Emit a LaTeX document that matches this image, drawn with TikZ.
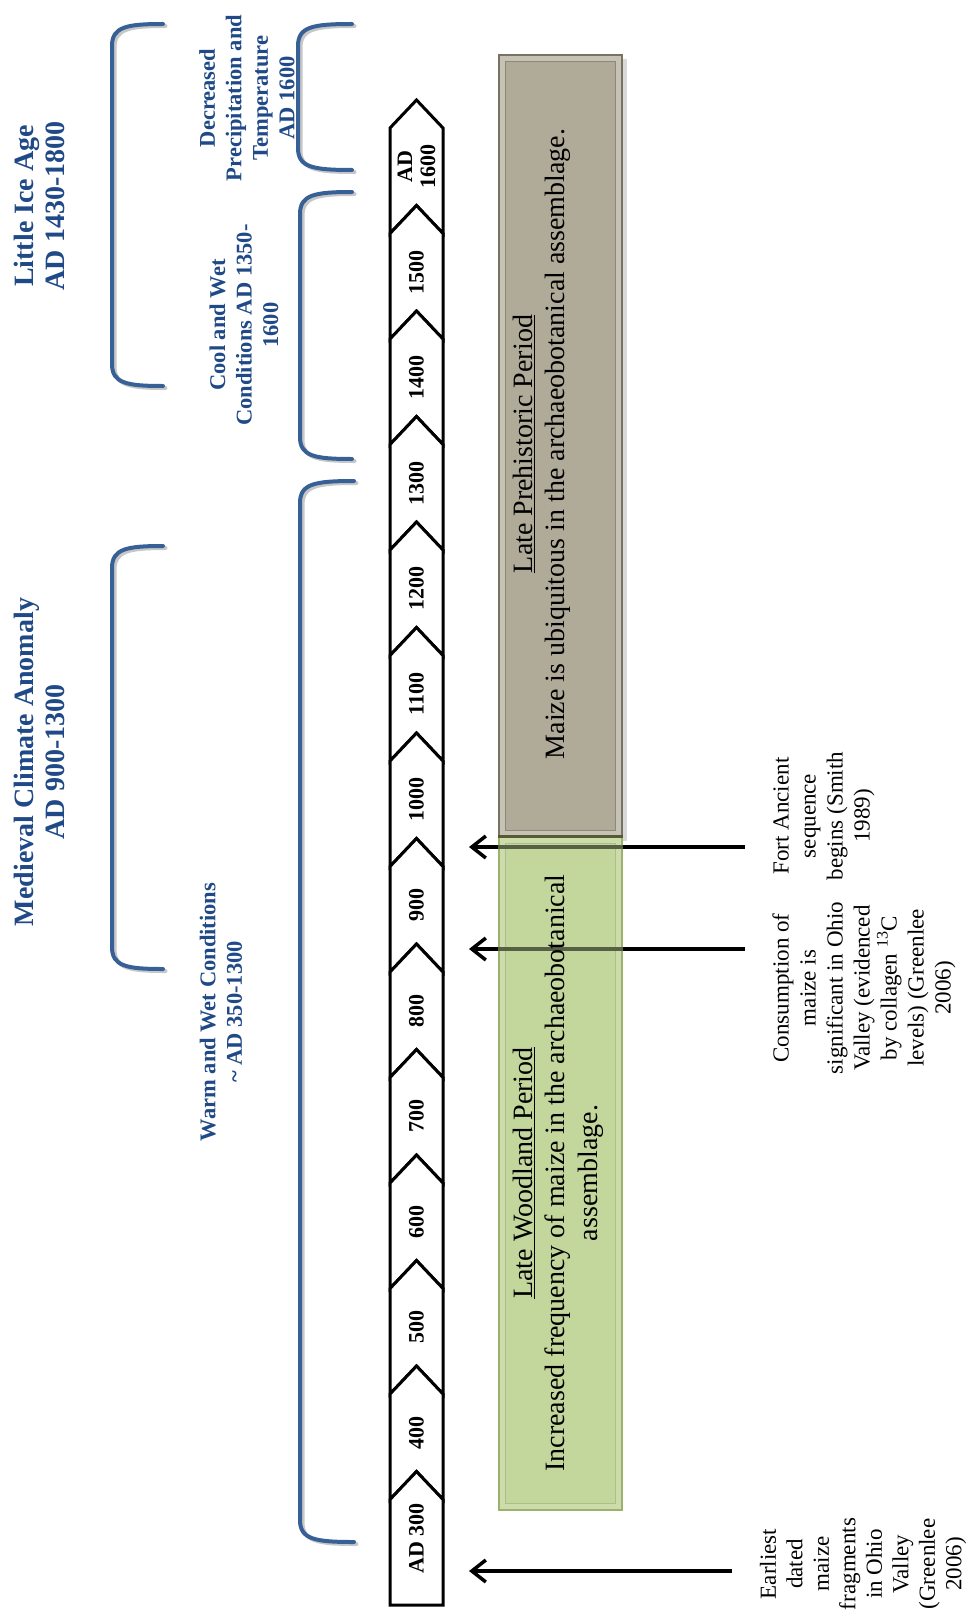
\documentclass[tikz,border=0pt]{standalone}
\usepackage{fontspec}
\setmainfont{Liberation Serif}
\usetikzlibrary{arrows.meta}
\definecolor{txtblue}{RGB}{31,73,135}
\definecolor{brblue}{RGB}{55,96,150}
\definecolor{grayfill}{RGB}{176,170,153}
\definecolor{grayedge}{RGB}{120,115,95}
\definecolor{greenfill}{RGB}{195,214,155}
\definecolor{greenedge}{RGB}{125,150,70}
\definecolor{olivedark}{RGB}{85,90,50}
\newcommand{\climbracket}[4]{%
  \draw[bracketshadow] ({#2+2.5},{#3+2}) .. controls ({#1+16.5},{#3+2}) and ({#1+2.5},{#3+5}) .. ({#1+2.5},{#3+24}) -- ({#1+2.5},{#4-20}) .. controls ({#1+2.5},{#4-1}) and ({#1+16.5},{#4+2}) .. ({#2+2.5},{#4+2});
  \draw[bracket] ({#2},{#3}) .. controls ({#1+14},{#3}) and ({#1},{#3+3}) .. ({#1},{#3+22}) -- ({#1},{#4-22}) .. controls ({#1},{#4-3}) and ({#1+14},{#4}) .. ({#2},{#4});
}
\begin{document}
\begin{tikzpicture}[x=1pt,y=-1pt,
  chev/.style={draw=black, fill=white, line width=3pt, line join=miter},
  yearlbl/.style={rotate=90, inner sep=0pt, align=center, font=\bfseries\fontsize{22}{23}\selectfont},
  climtitle/.style={rotate=90, inner sep=0pt, align=center, text=txtblue, font=\bfseries\fontsize{28}{31}\selectfont},
  climsub/.style={rotate=90, inner sep=0pt, align=center, text=txtblue, font=\bfseries\fontsize{22.5}{26.5}\selectfont},
  boxtext/.style={rotate=90, inner sep=0pt, align=center, font=\fontsize{28}{32.5}\selectfont},
  note/.style={rotate=90, inner sep=0pt, align=center, font=\fontsize{23}{27}\selectfont},
  bracket/.style={draw=brblue, line width=4pt, line cap=round},
  bracketshadow/.style={draw=black!22, line width=4pt, line cap=round},
  evarrow/.style={line width=3.5pt, -{Straight Barb[length=14pt,width=22pt]}},
  periodbox/.style={minimum width=123pt, inner sep=0pt, line width=1.5pt}
]
\useasboundingbox (0,0) rectangle (971,1616);

% ---- climate brackets ----
\climbracket{112}{163}{24}{386}
\climbracket{112}{163}{546}{969}
\climbracket{298}{352}{24}{170}
\climbracket{300}{352}{192}{459}
\climbracket{300}{354}{481}{1542}

% ---- climate labels ----
\node[climtitle] (lia) at (39,206) {Little Ice Age\\AD 1430-1800};
\node[climtitle] (mca) at (39,762) {Medieval Climate Anomaly\\AD 900-1300};
\node[climsub] (dpt) at (247,98) {Decreased\\Precipitation and\\Temperature\\AD 1600};
\node[climsub] (cwc) at (244,325) {Cool and Wet\\Conditions AD 1350-\\1600};
\node[climsub] (wwc) at (221,1012) {Warm and Wet Conditions\\\textasciitilde{} AD 350-1300};

% ---- chevron timeline ----
\foreach \i in {0,...,12} {
  \pgfmathsetmacro\ya{100+105.5*\i}
  \pgfmathsetmacro\yb{100+105.5*(\i+1)}
  \draw[chev] (390,{\ya+28}) -- (416.5,\ya) -- (443,{\ya+28}) -- (443,{\yb+28}) -- (416.5,\yb) -- (390,{\yb+28}) -- cycle;
}
\draw[chev] (390,1499.5) -- (416.5,1471.5) -- (443,1499.5) -- (443,1605) -- (390,1605) -- cycle;

\node[yearlbl] (y1600) at (416.5,166.75) {AD\\1600};
\node[yearlbl] (y1500) at (416.5,272.25) {1500};
\node[yearlbl] (y1400) at (416.5,377.75) {1400};
\node[yearlbl] (y1300) at (416.5,483.25) {1300};
\node[yearlbl] (y1200) at (416.5,588.75) {1200};
\node[yearlbl] (y1100) at (416.5,694.25) {1100};
\node[yearlbl] (y1000) at (416.5,799.75) {1000};
\node[yearlbl] (y900) at (416.5,905.25) {900};
\node[yearlbl] (y800) at (416.5,1010.75) {800};
\node[yearlbl] (y700) at (416.5,1116.25) {700};
\node[yearlbl] (y600) at (416.5,1221.75) {600};
\node[yearlbl] (y500) at (416.5,1327.25) {500};
\node[yearlbl] (y400) at (416.5,1432.75) {400};
\node[yearlbl] (y300) at (416.5,1538.25) {AD 300};

% ---- period boxes ----
\fill[black!15] (503,59) rectangle (627,841);
\node[periodbox, draw=grayedge, fill=grayfill!72!white, minimum height=782pt] (lpbox) at (560.5,446) {};
\filldraw[fill=grayfill, draw=grayfill!80!black, line width=0.8pt] ([shift={(7pt,-7pt)}]lpbox.north west) rectangle ([shift={(-7pt,7pt)}]lpbox.south east);

\node[periodbox, draw=greenedge, fill=greenfill!72!white, minimum height=673pt] (lwbox) at (560.5,1173.5) {};
\filldraw[fill=greenfill, draw=greenfill!80!black, line width=0.8pt] ([shift={(7pt,-7pt)}]lwbox.north west) rectangle ([shift={(-7pt,7pt)}]lwbox.south east);

% ---- event arrows ----
\coordinate (faTail) at (745,847);
\coordinate (faTip) at (469,847);
\coordinate (cmTail) at (745,949);
\coordinate (cmTip) at (469,949);
\coordinate (edTail) at (732,1571);
\coordinate (edTip) at (469,1571);
\draw[evarrow] (faTail) -- (faTip);
\draw[evarrow] (cmTail) -- (cmTip);
\draw[evarrow] (edTail) -- (edTip);

% tint of the green box over the arrows
\fill[greenfill, fill opacity=0.45] (lwbox.north west) rectangle (lwbox.south east);
\draw[olivedark, line width=3.5pt] (lwbox.north west) -- (lwbox.north east);

% ---- box texts ----
\node[boxtext] (lpt) at (542,444) {\underline{Late Prehistoric Period}\\Maize is ubiquitous in the archaeobotanical assemblage.};
\node[boxtext] (lwt) at (558,1173) {\underline{Late Woodland Period}\\Increased frequency of maize in the archaeobotanical\\assemblage.};

% ---- event notes ----
\node[note] (fa) at (824,816) {Fort Ancient\\sequence\\begins (Smith\\1989)};
\node[note] (cm) at (864,988) {Consumption of\\maize is\\significant in Ohio\\Valley (evidenced\\by collagen \textsuperscript{13}C\\levels) (Greenlee\\2006)};
\node[note, font=\fontsize{23}{26.5}\selectfont] (ed) at (863,1564) {Earliest\\dated\\maize\\fragments\\in Ohio\\Valley\\(Greenlee\\2006)};
\end{tikzpicture}
\end{document}
